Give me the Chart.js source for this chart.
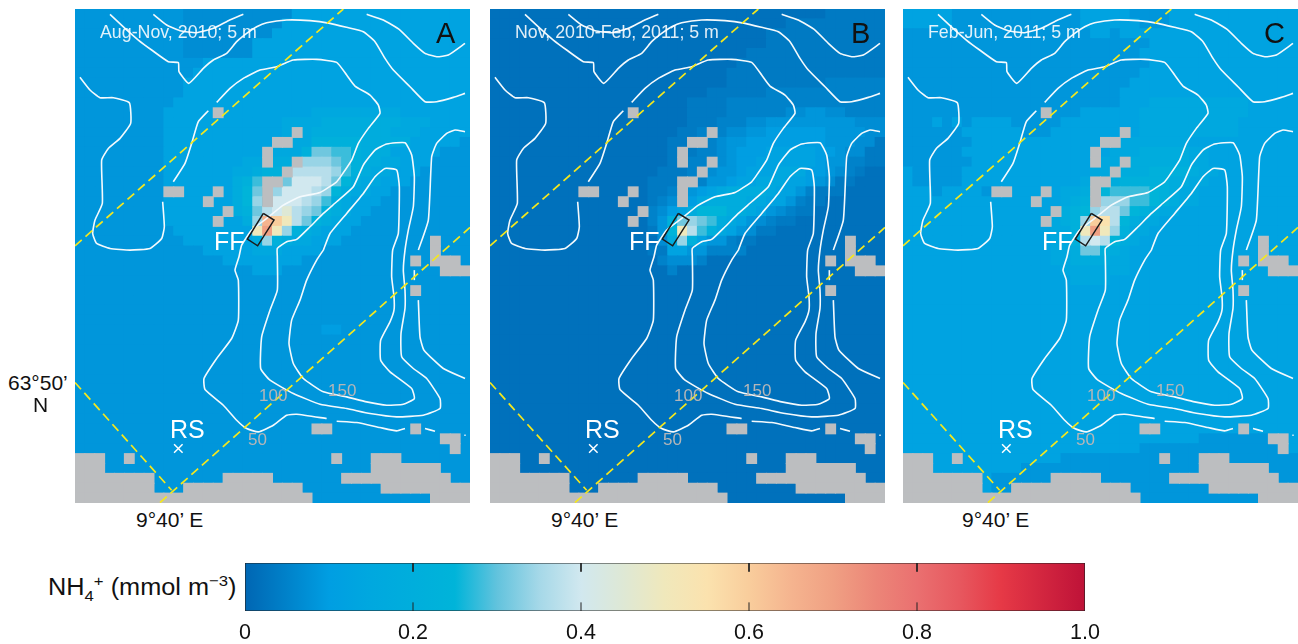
<!DOCTYPE html>
<html><head><meta charset="utf-8">
<script src="https://cdn.jsdelivr.net/npm/chart.js@4"></script>
<style>
html,body{margin:0;padding:0;background:#fff;width:1298px;height:644px;overflow:hidden}
body{position:relative;font-family:"Liberation Sans",Arial,sans-serif}
canvas{position:absolute;display:block}
.t{position:absolute;white-space:nowrap;line-height:1}
sub,sup{font-size:66%;line-height:0}
</style></head><body>
<script>
// value levels (mmol m-3) for each letter of the model fields
const LEVEL_KEYS = "abcdefghijklmnopqrstuv".split("");
const LEVEL_VALUES = [.02,.035,.05,.07,.085,.10,.125,.15,.18,.22,.25,.28,.31,.34,.37,.40,.45,.50,.55,.60,.65,.70];
// colour bar
const COLOR_POS = [0,.05,.1,.15,.2,.25,.3,.35,.4,.45,.5,.55,.6,.65,.7,.75,.8,.85,.9,1];
const COLOR_HEX = ["#0066b3","#0082ca","#009ee2","#00a8df","#00aedc","#00b4d9","#62c3dd","#a5d8e8","#d1e8ef","#dee8d5","#f0e8bb","#fbe2ae","#f9cd9c","#f5b48f","#f0a083","#ec8678","#ea7070","#e7585f","#e63946","#be1238"];
const BAR_TICKS = [0,.2,.4,.6,.8,1];
const BAR_TICK_LABELS = ["0","0.2","0.4","0.6","0.8","1.0"];
const PANEL_NAMES = ["A","B","C"];
const PANEL_TITLES = ["Aug-Nov, 2010; 5 m","Nov, 2010-Feb, 2011; 5 m","Feb-Jun, 2011; 5 m"];
// model fields, one entry per row, run-length per letter, 40 columns x 50 rows
const fieldA = [
"e11 d11 g18","e11 d10 g19","e11 d9 g20","e11 d7 g22","e11 d7 g22","e13 g27","e12 g28","e11 g29","e11 g29","e10 g30",
"e9 g15 h9 g7","e9 g12 h4 i8 h3 g4","e9 g12 h3 i8 h3 g5","e9 g11 h4 j5 i5 g5 e1","e9 g10 h4 j1 m2 l2 j1 i3 g5 e3",
"e9 g8 h3 i2 i1 n3 m1 l1 j1 i2 h2 g3 e4","e9 g7 h2 i1 j2 i1 o4 n1 l1 j1 i1 h2 g3 e5","e9 g7 i1 j1 l1 j2 m1 p3 o1 m1 k1 i1 h2 g3 e6",
"e9 g7 i1 k1 m1 j1 n1 p3 o1 n1 k1 i1 h2 g2 e8","e9 g7 i1 k1 n1 j1 p3 o1 n1 l1 i1 h1 g3 e9","e9 g7 i1 j1 m1 o1 p1 q1 o1 n1 m1 j1 i1 h1 g2 e10",
"e9 g8 i1 n1 u1 t1 r1 o1 m1 j1 i1 h1 g2 e11","e10 g8 r1 v1 r1 n1 j1 i1 h1 g3 e12","e11 g7 i1 n1 j1 i1 h2 g3 e13","e13 g5 h3 g4 e15","e15 g8 e17","e18 g3 e19",
"e40","e40","e40","e40","e40","e25 f2 e13","e40","e40","e40","e40","e40","e40","e40","e40","e40","e40","e40","e40","e40","e40","e40","e40","e40"];
const fieldB = [
"a34 b6","a30 b10","a28 b12","a28 b12","a26 b14","a25 b15","a24 b16","a24 b10 c6","a22 b6 c12","a20 b4 c16",
"a20 b4 c6 d2 e2 d2 c4","a20 b3 c3 d2 e9 d3","a19 b2 c3 d2 e2 f6 e4 d2","a18 b3 c2 d1 e2 f8 e3 d2 b1","a18 b3 c2 d1 e1 f3 g5 f2 e1 d2 b2",
"a18 b2 c2 d2 e1 f2 g6 f1 e2 c2 b2","a17 b3 c2 d1 e2 f1 g3 h3 f2 e1 d1 c1 b1 a2","a16 b3 c3 e2 f1 g2 h3 g2 f1 e1 d1 b2 a3",
"a16 b2 c2 e1 f1 g1 h1 i4 h1 g2 e1 c1 b3 a4","a16 b1 c1 d1 e1 f1 h1 i4 h2 g2 e1 c1 b2 a6","a16 c1 d1 f1 g1 i1 k3 i2 h1 g1 e1 d1 c1 b2 a7",
"a16 c1 e1 j1 m1 n1 m1 l1 i1 h1 g1 e1 d1 c1 b2 a9","a16 b1 e1 k1 r1 o1 l1 j1 h1 g1 e1 d1 b2 a11","a17 d1 i1 n1 j1 g1 e2 c1 b2 a13","a16 b2 g2 e2 c4 a14","a17 c1 d3 c1 a18","a18 c1 a21",
"a40","a40","a40","a40","a40","a40","a40","a40","a40","a40","a40","a40","a40","a40","a40","a40","a40","a40","a40","a40","a40","a40","a40"];
const fieldC = [
"g5 e13 g5 e4 g13","g5 e13 g6 e3 g13","e19 g2 e1 g18","e25 g15","e24 g16","e25 g15","e24 g16","e23 g17","e22 g18","e22 g3 h10 g5",
"e18 g6 h11 g5","e3 g1 e1 g1 e1 g4 e5 g8 h10 g6","e6 g6 e3 g9 h10 g6","e7 g14 h8 g11","e6 g15 h3 i5 h2 g9",
"e7 g13 h3 i6 h2 g9","g1 e5 g13 h3 i3 j4 i1 h2 g8","g1 e5 g12 h3 i1 j5 i2 h2 g9","g3 e1 g4 e1 g7 h2 i1 j1 k1 l4 k1 j1 i1 h2 g10",
"g16 h1 i1 j1 j1 n3 l2 k1 j1 i1 h2 g10","g15 h1 i1 j1 k1 n1 o2 m1 k1 j1 i1 h2 g12","g15 h1 i1 j1 n1 t1 s1 o1 k1 i1 h2 g14",
"g15 h2 j1 r1 v1 r1 n1 j1 h2 g15","g15 h2 j1 o1 p1 o1 k1 i1 h1 g16","g15 h2 i1 m2 j1 i1 h1 g17","g15 h2 i4 h2 g17","g16 h7 g17","g17 h4 g19",
"g40","g40","g40","g40","g40","g40","g40","g40","g40","g40","g40","g40","g40","g40","g40",
"g30 e7 g3","g24 e14 g2","g16 e24","g12 e28","g9 e31","g9 e31","g24 e16"];
// land and masked cells: row, first column, last column
const LAND_RUNS = [[10,14,14],[12,22,22],[13,20,21],[14,19,19],[15,19,19],[15,22,22],[16,21,21],[17,19,20],[18,19,19],[19,19,19],[18,9,10],[18,14,14],[19,13,13],[20,15,15],[21,14,14],[23,36,36],[24,36,36],[25,34,34],[25,36,38],[26,37,39],[28,34,34],[42,24,25],[42,34,34],[43,37,38],[44,38,38],[45,5,5],[45,26,26],[45,0,2],[46,0,2],[47,0,7],[48,0,7],[49,0,23],[47,15,19],[48,11,22],[45,30,32],[46,30,36],[47,27,37],[48,31,39],[49,36,39]];
// depth contours, transects, in mesh units
const CONTOUR_WEDGE = [[120,43],[165,85],[205,120],[245,150],[295,185],[325,188],[327,215],[356,250],[400,205],[430,180],[470,160],[500,125],[530,100],[560,80],[590,68],[650,60],[720,62],[780,70],[830,82],[880,95],[915,125],[945,175],[970,210],[1020,260],[1065,305],[1100,305],[1150,292],[1185,280]];
const CONTOUR_ARC = [[250,43],[290,75],[330,92],[380,98],[430,85],[475,62],[520,43]];
const CONTOUR_TOPRIGHT = [[890,43],[940,60],[990,90],[1030,130],[1065,160],[1100,170],[1135,165],[1185,130]];
const CONTOUR_LEFT = [[30,232],[60,270],[90,293],[130,293],[178,308],[182,370],[150,415],[115,445],[95,480],[97,610],[75,660],[68,700],[80,730],[120,745],[180,750],[240,745],[275,715],[283,680],[278,605]];
const CONTOUR_50A = [[415,332],[385,365],[365,430],[345,490],[310,545]];
const CONTOUR_50B = [[440,307],[480,265],[520,235],[570,210],[620,200],[670,180],[740,178],[800,187],[830,225],[855,258],[900,285],[925,315],[930,340],[895,385],[865,430],[845,480],[815,525],[800,545],[750,577],[690,590],[640,615],[590,655],[545,690],[515,735],[507,770],[495,810],[505,840],[505,960],[485,1015],[440,1075],[402,1135],[405,1168],[460,1215],[500,1260],[530,1285],[565,1295],[610,1275],[650,1245],[680,1242],[770,1255]];
const CONTOUR_50C = [[800,1263],[860,1267],[930,1282],[980,1292],[1005,1285]];
const CONTOUR_50D = [[1065,1285],[1095,1293]];
const CONTOUR_50E = [[1183,1305],[1187,1305]];
const CONTOUR_100 = [[622,770],[622,745],[650,725],[680,718],[720,680],[760,640],[800,605],[850,560],[880,495],[915,450],[950,432],[1005,428],[1025,465],[1033,530],[1030,620],[1015,690],[1005,750],[1000,810],[1005,870],[1005,925],[993,1000],[995,1070],[1030,1105],[1070,1135],[1110,1195],[1110,1225],[1060,1245],[980,1250],[900,1240],[830,1225],[750,1212],[670,1180],[600,1140],[572,1105],[575,1010],[600,930],[622,870],[622,770]];
const CONTOUR_150 = [[760,750],[780,700],[830,640],[880,580],[915,530],[945,505],[980,510],[988,560],[985,700],[968,750],[965,830],[972,890],[972,930],[960,965],[932,1020],[932,1080],[960,1115],[1025,1165],[1033,1195],[1000,1212],[950,1215],[890,1205],[830,1190],[760,1175],[700,1135],[670,1090],[657,1030],[665,960],[690,900],[710,840],[740,780],[760,750]];
const CONTOUR_RIGHT = [[1045,750],[1075,660],[1085,470],[1100,430],[1130,400],[1155,390],[1185,395]];
const CONTOUR_RIGHT_B = [[1033,810],[1033,840]];
const CONTOUR_RIGHT_C = [[1045,900],[1050,1010],[1062,1050],[1120,1105],[1185,1135]];
const TRANSECT_1 = [[15,737],[820,27]];
const TRANSECT_2 = [[270,1507],[1200,682]];
const TRANSECT_3 = [[15,1147],[305,1470]];
const FISH_FARM = [[580,640],[612,660],[563,737],[532,717],[580,640]];
const STATION_RS = [[325,1345]];

const CONTOURS = [CONTOUR_WEDGE,CONTOUR_ARC,CONTOUR_TOPRIGHT,CONTOUR_LEFT,CONTOUR_50A,CONTOUR_50B,CONTOUR_50C,CONTOUR_50D,CONTOUR_50E,CONTOUR_100,CONTOUR_150,CONTOUR_RIGHT,CONTOUR_RIGHT_B,CONTOUR_RIGHT_C];
const FIELDS = [fieldA,fieldB,fieldC];
const PANEL_LEFT = [75,490,903];
const X0=15,Y0=27,CELL=29.625,COLS=40,ROWS=50;
const xy = a => a.map(p=>({x:p[0],y:p[1]}));
const rgb = h => [1,3,5].map(i=>parseInt(h.substr(i,2),16));
function colorOf(v){
  let i=0; while(i<COLOR_POS.length-2 && v>COLOR_POS[i+1]) i++;
  const t=(v-COLOR_POS[i])/(COLOR_POS[i+1]-COLOR_POS[i]),a=rgb(COLOR_HEX[i]),b=rgb(COLOR_HEX[i+1]);
  return `rgb(${a.map((c,k)=>Math.round(c+(b[k]-c)*t)).join(",")})`;
}
const cellCentre=(c,r)=>({x:X0+(c+.5)*CELL,y:Y0+(r+.5)*CELL});
function decode(field){
  const out=[];
  field.forEach((row,r)=>{
    const s=row.replace(/([a-z])(\d+)\s*/g,(m,k,n)=>k.repeat(+n));
    for(let c=0;c<COLS;c++){const k=s[c]||s[s.length-1];
      out.push({...cellCentre(c,r),v:LEVEL_VALUES[LEVEL_KEYS.indexOf(k)]});}
  });
  return out;
}
function landCells(){
  const out=[];
  LAND_RUNS.forEach(([r,a,b])=>{for(let c=a;c<=b;c++)out.push(cellCentre(c,r));});
  return out;
}
const cellRadius = ctx => (ctx.chart.scales.x.width/COLS+1)/Math.SQRT2;
function label(html,x,base,size,color,extra){
  const d=document.createElement("div");d.className="t";d.innerHTML=html;
  d.style.cssText=`left:${x}px;top:${base-0.846*size}px;font-size:${size}px;color:${color};${extra||""}`;
  document.body.appendChild(d);
}
function mk(x,y,w,h){
  const c=document.createElement("canvas");c.width=w;c.height=h;
  c.style.cssText=`left:${x}px;top:${y}px;width:${w}px;height:${h}px`;
  document.body.appendChild(c);return c;
}
FIELDS.forEach((field,i)=>{
  const ds=[];
  ds.push({data:decode(field),order:10,pointStyle:"rect",pointRadius:cellRadius,pointBorderWidth:0,
    pointBackgroundColor:c=>colorOf(c.raw.v),showLine:false});
  ds.push({data:landCells(),order:9,pointStyle:"rect",pointRadius:cellRadius,pointBorderWidth:0,
    pointBackgroundColor:"#bcbec0",showLine:false});
  CONTOURS.forEach(k=>ds.push({data:xy(k),order:5,showLine:true,pointRadius:0,borderColor:"#f4fafd",borderWidth:1.6,tension:.15}));
  [TRANSECT_1,TRANSECT_2,TRANSECT_3].forEach(k=>ds.push({data:xy(k),order:3,showLine:true,pointRadius:0,borderColor:"#f5e71c",borderWidth:1.7,borderDash:[9,5]}));
  ds.push({data:xy(FISH_FARM),order:2,showLine:true,pointRadius:0,borderColor:"#1a1a1a",borderWidth:1.5});
  ds.push({data:xy(STATION_RS),order:1,showLine:false,pointStyle:"crossRot",pointRadius:6,pointBorderColor:"#fff",pointBorderWidth:1.5});
  new Chart(mk(PANEL_LEFT[i],9,395,494),{type:"scatter",data:{datasets:ds},options:{
    responsive:false,animation:false,events:[],layout:{padding:0,autoPadding:false},
    plugins:{legend:{display:false},tooltip:{enabled:false}},
    scales:{x:{type:"linear",display:false,min:X0,max:X0+COLS*CELL},
            y:{type:"linear",display:false,reverse:true,min:Y0,max:Y0+ROWS*CELL}}}});
  const dx=PANEL_LEFT[i]-75;
  label(PANEL_TITLES[i],100+dx,39,17.8,"rgba(255,255,255,.88)");
  label(PANEL_NAMES[i],436+dx,44,29,"#111");
  label("FF",214+dx,250,25,"#fff");
  label("RS",170+dx,438,25,"#fff");
  label("100",259+dx,401,17,"#b4b6b8");
  label("150",328+dx,396,17,"#b4b6b8");
  label("50",248+dx,445,17,"#b4b6b8");
});
label("63°50’",8,390,21,"#111");
label("N",33,412,21,"#111");
[136,551,962].forEach(x=>label("9°40’ E",x,527,21,"#111"));
label("NH<sub>4</sub><sup>+</sup> (mmol m<sup>−3</sup>)",48,595,23,"#111","transform:scaleX(1.1);transform-origin:left center");

// colour bar
const barSets=[{type:"line",data:[{x:0,y:1},{x:1,y:1}],fill:"origin",pointRadius:0,borderWidth:0,order:3,
  backgroundColor:c=>{
    const a=c.chart.chartArea;if(!a)return "#009ee2";
    const g=c.chart.ctx.createLinearGradient(a.left,0,a.right,0);
    COLOR_POS.forEach((p,i)=>g.addColorStop(p,COLOR_HEX[i]));return g;}},
 {data:[{x:0,y:0},{x:1,y:0},{x:1,y:1},{x:0,y:1},{x:0,y:0}],showLine:true,pointRadius:0,borderColor:"#222",borderWidth:1.2,order:1}];
BAR_TICKS.slice(1,-1).forEach(t=>{
  barSets.push({data:[{x:t,y:1},{x:t,y:.82}],showLine:true,pointRadius:0,borderColor:"#222",borderWidth:1,order:2});
  barSets.push({data:[{x:t,y:0},{x:t,y:.18}],showLine:true,pointRadius:0,borderColor:"#222",borderWidth:1,order:2});
});
new Chart(mk(0,540,1298,104),{type:"scatter",data:{datasets:barSets},options:{
  responsive:false,animation:false,events:[],
  layout:{padding:{left:245,right:213,top:23,bottom:0}},
  plugins:{legend:{display:false},tooltip:{enabled:false}},
  scales:{y:{display:false,min:0,max:1},
    x:{type:"linear",min:0,max:1,grid:{display:false},border:{display:false},
      afterFit:s=>{s.height=33;},
      afterBuildTicks:s=>{s.ticks=BAR_TICKS.map(v=>({value:v}));},
      ticks:{padding:1,color:"#111",font:{size:21.5,family:"Liberation Sans"},maxRotation:0,autoSkip:false,
        callback:v=>BAR_TICK_LABELS[BAR_TICKS.indexOf(v)]}}}}});
</script>
</body></html>
